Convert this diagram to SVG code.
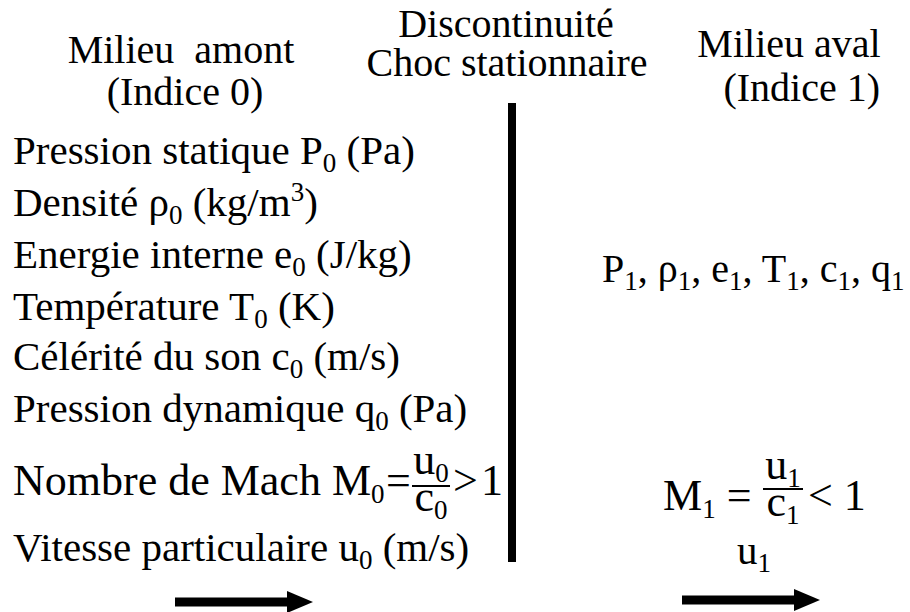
<svg xmlns="http://www.w3.org/2000/svg" width="910" height="612" viewBox="0 0 910 612">
<defs>
<style>
text{font-family:'Liberation Serif','Times New Roman',serif;font-size:41px;fill:#000}
.sub{font-size:27px}
.mid{text-anchor:middle}
.end{text-anchor:end}
.hd{font-size:40px}
.mach{font-size:44px}
.arrow{stroke:#000;stroke-width:9;fill:none}
</style>
<marker id="head" markerUnits="userSpaceOnUse" markerWidth="26" markerHeight="22" refX="4" refY="11" orient="auto">
<path d="M0,0 L26,11 L0,22 Z" fill="#000"/>
</marker>
</defs>
<rect width="910" height="612" fill="#fff"/>
<g id="header-amont">
<text class="hd mid" x="181" y="63" xml:space="preserve">Milieu  amont</text>
<text class="hd mid" x="185" y="105">(Indice 0)</text>
</g>
<g id="header-choc">
<text class="hd mid" x="506" y="37">Discontinuité</text>
<text class="hd mid" x="507" y="76">Choc stationnaire</text>
</g>
<g id="header-aval">
<text class="hd mid" x="789" y="57">Milieu aval</text>
<text class="hd end" x="880" y="101">(Indice 1)</text>
</g>
<g id="choc">
<rect x="508" y="103" width="8" height="459" fill="#000"/>
</g>
<g id="list-amont">
<text x="13" y="164">Pression statique P<tspan class="sub" dy="8">0</tspan><tspan dy="-8"> (Pa)</tspan></text>
<text x="13" y="216">Densité ρ<tspan class="sub" dy="8">0</tspan><tspan dy="-8"> (kg/m</tspan><tspan class="sub" dy="-15">3</tspan><tspan dy="15">)</tspan></text>
<text x="13" y="268">Energie interne e<tspan class="sub" dy="8">0</tspan><tspan dy="-8"> (J/kg)</tspan></text>
<text x="13" y="320">Température T<tspan class="sub" dy="8">0</tspan><tspan dy="-8"> (K)</tspan></text>
<text x="13" y="370">Célérité du son c<tspan class="sub" dy="8">0</tspan><tspan dy="-8"> (m/s)</tspan></text>
<text x="13" y="422">Pression dynamique q<tspan class="sub" dy="8">0</tspan><tspan dy="-8"> (Pa)</tspan></text>
<text x="13" y="561">Vitesse particulaire u<tspan class="sub" dy="8">0</tspan><tspan dy="-8"> (m/s)</tspan></text>
</g>
<g id="mach-amont">
<text class="mach" x="13" y="495">Nombre de Mach M<tspan class="sub" dy="8">0</tspan></text>
<text class="mach" x="386" y="495">=</text>
<text class="mach mid" x="431" y="474">u<tspan class="sub" dy="8">0</tspan></text>
<rect x="412" y="485" width="38" height="2" fill="#000"/>
<text class="mach mid" x="431" y="511">c<tspan class="sub" dy="8">0</tspan></text>
<text class="mach" x="453" y="495">&gt;</text>
<text class="mach" x="481" y="495">1</text>
</g>
<g id="values-aval">
<text x="602" y="282" style="font-size:40px">P<tspan class="sub" dy="8">1</tspan><tspan dy="-8">, ρ</tspan><tspan class="sub" dy="8">1</tspan><tspan dy="-8">, e</tspan><tspan class="sub" dy="8">1</tspan><tspan dy="-8">, T</tspan><tspan class="sub" dy="8">1</tspan><tspan dy="-8">, c</tspan><tspan class="sub" dy="8">1</tspan><tspan dy="-8">, q</tspan><tspan class="sub" dy="8">1</tspan></text>
</g>
<g id="mach-aval">
<text class="mach" x="663" y="510">M<tspan class="sub" dy="8">1</tspan><tspan dy="-8"> =</tspan></text>
<text class="mach mid" x="783" y="479">u<tspan class="sub" dy="8">1</tspan></text>
<rect x="763" y="488" width="40" height="2" fill="#000"/>
<text class="mach mid" x="783" y="516">c<tspan class="sub" dy="8">1</tspan></text>
<text class="mach" x="808" y="510">&lt; 1</text>
<text x="737" y="564">u<tspan class="sub" dy="8">1</tspan></text>
</g>
<g id="connectors">
<line class="arrow" x1="175" y1="602" x2="291" y2="602" marker-end="url(#head)"/>
<line class="arrow" x1="682" y1="600" x2="798" y2="600" marker-end="url(#head)"/>
</g>
</svg>
